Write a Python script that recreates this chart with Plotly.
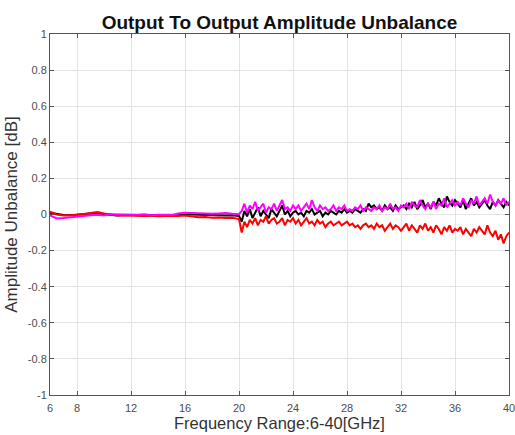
import plotly.graph_objects as go

# Frequency grids [GHz]
FREQ_LOW = [6.0, 6.5, 7.0, 7.5, 8.0, 8.5, 9.0, 9.5, 10.0, 10.5, 11.0, 11.5, 12.0, 12.5,
            13.0, 13.5, 14.0, 14.5, 15.0, 15.5, 16.0, 16.5, 17.0, 17.5, 18.0, 18.5,
            19.0, 19.5, 20.0]
FREQ_HIGH = [20.2, 20.4, 20.6, 20.8, 21.0, 21.2, 21.4, 21.6, 21.8, 22.0,
             22.2, 22.4, 22.6, 22.8, 23.0, 23.2, 23.4, 23.6, 23.8, 24.0,
             24.2, 24.4, 24.6, 24.8, 25.0, 25.2, 25.4, 25.6, 25.8, 26.0,
             26.2, 26.4, 26.6, 26.8, 27.0, 27.2, 27.4, 27.6, 27.8, 28.0,
             28.2, 28.4, 28.6, 28.8, 29.0, 29.2, 29.4, 29.6, 29.8, 30.0,
             30.2, 30.4, 30.6, 30.8, 31.0, 31.2, 31.4, 31.6, 31.8, 32.0,
             32.2, 32.4, 32.6, 32.8, 33.0, 33.2, 33.4, 33.6, 33.8, 34.0,
             34.2, 34.4, 34.6, 34.8, 35.0, 35.2, 35.4, 35.6, 35.8, 36.0,
             36.2, 36.4, 36.6, 36.8, 37.0, 37.2, 37.4, 37.6, 37.8, 38.0,
             38.2, 38.4, 38.6, 38.8, 39.0, 39.2, 39.4, 39.6, 39.8, 40.0]

BLACK_LOW = [0.010, 0.002, -0.003, -0.004, -0.002, 0.000, 0.004, 0.008, 0.002, -0.004,
             -0.006, -0.003, -0.004, -0.008, -0.006, -0.004, -0.006, -0.005, -0.008, -0.004,
             0.002, 0.000, -0.002, -0.003, -0.002, -0.004, -0.006, -0.004, -0.008]
BLACK_HIGH = [-0.04, 0.02, -0.01, 0.03, -0.02, 0.01, 0.04, -0.01, 0.02, 0.00,
              -0.02, 0.03, 0.01, -0.01, 0.02, 0.05, 0.00, 0.02, -0.01, 0.01,
              0.02, 0.00, 0.01, -0.01, 0.02, 0.01, 0.03, 0.00, 0.01, 0.02,
              -0.01, 0.01, 0.00, 0.02, 0.01, 0.00, 0.02, 0.01, 0.03, 0.01,
              0.02, 0.01, 0.03, 0.02, 0.01, 0.03, 0.02, 0.06, 0.04, 0.05,
              0.03, 0.04, 0.02, 0.05, 0.03, 0.04, 0.02, 0.05, 0.03, 0.04,
              0.05, 0.03, 0.06, 0.04, 0.07, 0.03, 0.05, 0.08, 0.04, 0.06,
              0.03, 0.07, 0.05, 0.09, 0.06, 0.04, 0.10, 0.07, 0.05, 0.08,
              0.06, 0.04, 0.08, 0.03, 0.06, 0.09, 0.05, 0.07, 0.04, 0.06,
              0.08, 0.05, 0.03, 0.07, 0.05, 0.08, 0.06, 0.04, 0.07, 0.05]

RED_LOW = [0.015, 0.000, -0.006, -0.005, -0.002, 0.003, 0.008, 0.014, 0.006, -0.002,
           -0.006, -0.004, -0.006, -0.010, -0.008, -0.006, -0.010, -0.008, -0.010, -0.008,
           -0.006, -0.012, -0.015, -0.014, -0.018, -0.016, -0.020, -0.018, -0.025]
RED_HIGH = [-0.10, -0.04, -0.07, -0.03, -0.05, -0.02, -0.06, -0.03, -0.04, -0.01,
            -0.05, -0.03, -0.02, -0.05, -0.04, -0.02, -0.06, -0.03, -0.04, -0.02,
            -0.05, -0.03, -0.06, -0.04, -0.02, -0.05, -0.04, -0.06, -0.03, -0.05,
            -0.04, -0.07, -0.05, -0.04, -0.06, -0.05, -0.04, -0.06, -0.05, -0.04,
            -0.06, -0.05, -0.07, -0.06, -0.08, -0.06, -0.05, -0.07, -0.06, -0.08,
            -0.05, -0.07, -0.06, -0.09, -0.07, -0.05, -0.08, -0.06, -0.07, -0.09,
            -0.07, -0.05, -0.09, -0.06, -0.08, -0.10, -0.06, -0.08, -0.05, -0.09,
            -0.07, -0.10, -0.06, -0.08, -0.11, -0.07, -0.09, -0.06, -0.10, -0.08,
            -0.09, -0.07, -0.11, -0.08, -0.10, -0.12, -0.08, -0.10, -0.07, -0.09,
            -0.11, -0.06, -0.10, -0.12, -0.09, -0.14, -0.11, -0.16, -0.12, -0.10]

MAGENTA_LOW = [-0.005, -0.022, -0.020, -0.015, -0.012, -0.008, -0.004, -0.002, -0.006, 0.002,
               0.000, -0.002, -0.003, -0.002, 0.002, -0.004, -0.002, 0.000, -0.002, 0.006,
               0.010, 0.008, 0.006, 0.008, 0.004, 0.006, 0.008, 0.004, 0.002]
MAGENTA_HIGH = [0.02, 0.06, 0.01, 0.05, 0.03, 0.07, 0.02, 0.04, 0.06, 0.01,
                0.04, 0.03, 0.06, 0.02, 0.05, 0.08, 0.03, 0.04, 0.02, 0.05,
                0.03, 0.05, 0.02, 0.04, 0.06, 0.03, 0.08, 0.04, 0.02, 0.05,
                0.03, 0.04, 0.02, 0.03, 0.05, 0.02, 0.04, 0.03, 0.05, 0.02,
                0.03, 0.02, 0.04, 0.03, 0.05, 0.02, 0.04, 0.03, 0.02, 0.04,
                0.03, 0.05, 0.02, 0.04, 0.03, 0.06, 0.03, 0.04, 0.02, 0.05,
                0.04, 0.06, 0.03, 0.07, 0.05, 0.04, 0.08, 0.05, 0.03, 0.06,
                0.04, 0.07, 0.03, 0.06, 0.05, 0.09, 0.04, 0.06, 0.08, 0.05,
                0.07, 0.05, 0.09, 0.06, 0.04, 0.08, 0.06, 0.10, 0.05, 0.07,
                0.09, 0.06, 0.11, 0.07, 0.05, 0.08, 0.06, 0.09, 0.05, 0.07]

X_TICKS = [6, 8, 12, 16, 20, 24, 28, 32, 36, 40]
Y_TICKS = [1, 0.8, 0.6, 0.4, 0.2, 0, -0.2, -0.4, -0.6, -0.8, -1]
Y_TICK_TEXT = ["1", "0.8", "0.6", "0.4", "0.2", "0", "-0.2", "-0.4", "-0.6", "-0.8", "-1"]

freq = FREQ_LOW + FREQ_HIGH
series = [
    ("Black", BLACK_LOW + BLACK_HIGH, "#000000"),
    ("Red", RED_LOW + RED_HIGH, "#ff0000"),
    ("Magenta", MAGENTA_LOW + MAGENTA_HIGH, "#ff00ff"),
]

fig = go.Figure()
for name, vals, col in series:
    fig.add_trace(go.Scatter(x=freq, y=vals, mode="lines", name=name,
                             line=dict(color=col, width=2), showlegend=False,
                             hoverinfo="skip"))

axis_common = dict(
    showline=True, linecolor="#555555", linewidth=1, mirror="ticks",
    ticks="inside", ticklen=4, tickcolor="#555555", automargin=False,
    ticklabeloverflow="allow",
    showgrid=True, gridcolor="#e3e3e3", gridwidth=1, zeroline=False,
    tickfont=dict(family="Liberation Sans, Arial", size=11, color="#4d4d4d"),
)

W, H = 515, 435
fig.update_layout(
    width=W, height=H,
    margin=dict(l=50, r=6, t=34, b=40),
    paper_bgcolor="white", plot_bgcolor="white",
    hovermode=False,
    title=dict(text="<b>Output To Output Amplitude Unbalance</b>",
               x=(50 + 509) / 2 / W, xanchor="center",
               y=1 - 22 / H, yanchor="middle",
               font=dict(family="Liberation Sans, Arial", size=19, color="#111111")),
    xaxis=dict(range=[6, 40], tickvals=X_TICKS, ticktext=[str(t) for t in X_TICKS],
               ticklabelstandoff=3,
               title=dict(text="Frequency Range:6-40[GHz]", standoff=3,
                          font=dict(family="Liberation Sans, Arial", size=16.5, color="#333333")),
               **axis_common),
    yaxis=dict(range=[-1, 1], tickvals=Y_TICKS, ticktext=Y_TICK_TEXT,
               title=dict(text="Amplitude Unbalance [dB]", standoff=5,
                          font=dict(family="Liberation Sans, Arial", size=17, color="#333333")),
               **axis_common),
)

# Remove the default page margin so the 515x435 figure fills the window exactly.
fig.write_html("out.html",
               config={"displayModeBar": False},
               post_script="document.body.style.margin='0';document.body.style.overflow='hidden';")
